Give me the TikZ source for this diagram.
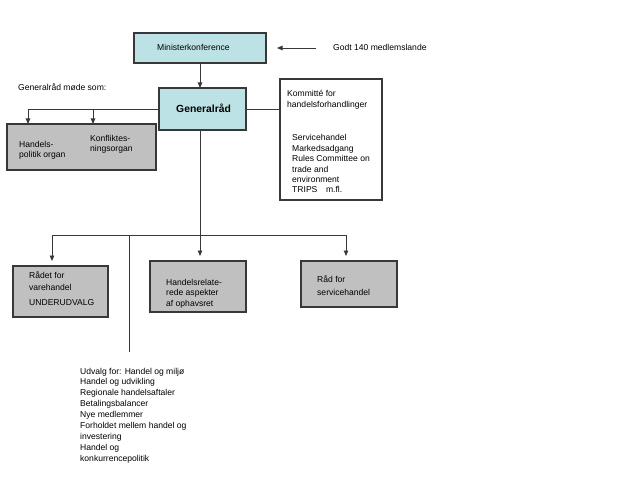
\documentclass[tikz,border=0pt]{standalone}
\usepackage{fontspec}
\setmainfont{Liberation Sans}
\usetikzlibrary{arrows.meta}
\definecolor{cyanfill}{HTML}{BDE2E5}
\definecolor{grayfill}{HTML}{C0C0C0}
\definecolor{edge}{HTML}{383838}
\begin{document}
\begin{tikzpicture}[x=1bp,y=-1bp,
  box/.style={draw=edge,line width=1.2bp},
  lbl/.style={inner sep=0pt,anchor=base west,font=\fontsize{8.6}{10.5}\selectfont,align=left},
  conn/.style={draw=edge,line width=0.85bp},
  arr/.style={conn,-{Triangle[length=5.5bp,width=4.5bp]}}]
\useasboundingbox (0,0) rectangle (642,482);
\fill[white] (0,0) rectangle (642,482);
% boxes (base anchor of a multi-line label = baseline of its last line)
\draw[box,fill=cyanfill] (134,33) rectangle (266,63);
\node[lbl] (mktext) at (157,51) {Ministerkonference};
\coordinate (mkR) at (277,48);
\coordinate (mkB) at (200,63);
\draw[box,fill=cyanfill] (159,88) rectangle (246,130);
\node[inner sep=0pt,anchor=base west,font=\bfseries\fontsize{10.4}{12}\selectfont] (gr) at (176,113) {Generalråd};
\coordinate (grT) at (200,88);
\coordinate (grL) at (159,109);
\coordinate (grR) at (246,109);
\coordinate (grB) at (200,130);
\draw[box,fill=grayfill] (7,124) rectangle (156,170);
\node[lbl] (hp) at (19,158) {Handels-\\politik organ};
\node[lbl] (ko) at (90,152) {Konfliktes-\\ningsorgan};
\draw[box] (280,79) rectangle (382,200);
\node[lbl,font=\fontsize{8.6}{11.5}\selectfont] (kf) at (287,108) {Kommitté for\\handelsforhandlinger};
\node[lbl] (sv) at (292,193) {Servicehandel\\Markedsadgang\\Rules Committee on\\trade and\\environment\\TRIPS\quad m.fl.};
\draw[box,fill=grayfill] (13,266) rectangle (108,317);
\node[lbl,font=\fontsize{8.6}{12}\selectfont] (rv) at (29,290) {Rådet for\\varehandel};
\node[lbl] (uu) at (29,305) {UNDERUDVALG};
\draw[box,fill=grayfill] (150,261) rectangle (246,312);
\node[lbl] (hr) at (166,306) {Handelsrelate-\\rede aspekter\\af ophavsret};
\draw[box,fill=grayfill] (301,261) rectangle (397,307);
\node[lbl,font=\fontsize{8.6}{13}\selectfont] (rs) at (317,295) {Råd for\\servicehandel};
% free texts
\node[lbl] (godt) at (333,51) {Godt 140 medlemslande};
\node[lbl] (gms) at (18,91) {Generalråd møde som:};
\node[lbl,font=\fontsize{8.6}{10.9}\selectfont] (udv) at (80,461) {Udvalg for: Handel og miljø\\Handel og udvikling\\Regionale handelsaftaler\\Betalingsbalancer\\Nye medlemmer\\Forholdet mellem handel og\\investering\\Handel og\\konkurrencepolitik};
% connectors
\coordinate (gs) at (316,48);
\draw[arr] (gs) -- (mkR);
\draw[arr] (mkB) -- (grT);
\coordinate (lcorner) at (28,109);
\draw[conn] (grL) -- (lcorner);
\draw[arr] (lcorner) -- (28,124);
\draw[arr] (93,109) -- (93,124);
\draw[conn] (grR) -- (280,109);
\coordinate (hub) at (200,235);
\draw[conn] (grB) -- (hub);
\draw[conn] (52,235) -- (346,235);
\draw[arr] (52,235) -- (52,261);
\draw[arr] (hub) -- (200,256);
\draw[arr] (346,235) -- (346,256);
\draw[conn] (129,235) -- (129,352);
\end{tikzpicture}
\end{document}
